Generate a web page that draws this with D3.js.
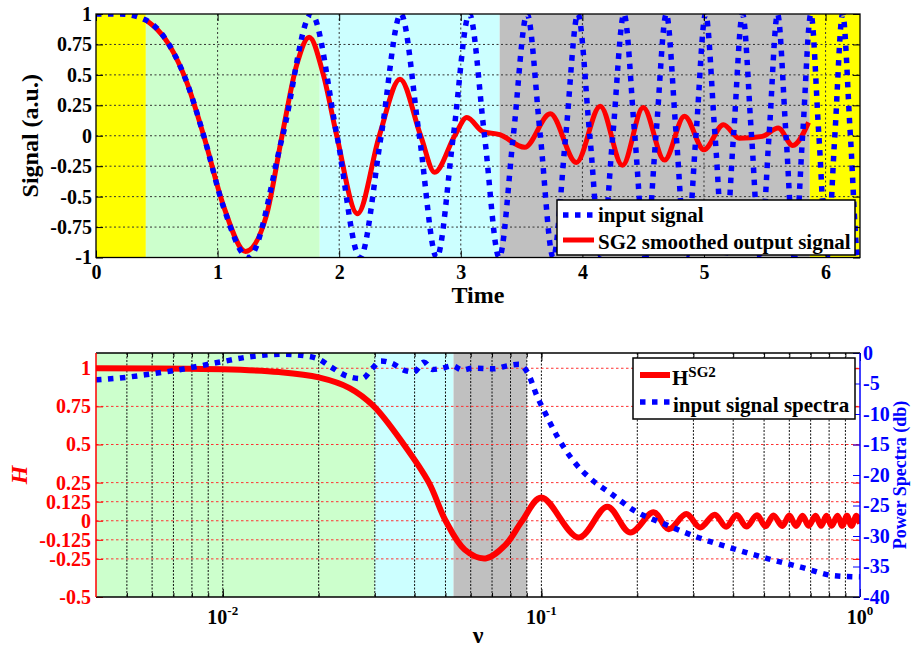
<!DOCTYPE html>
<html>
<head>
<meta charset="utf-8">
<script src="https://cdn.jsdelivr.net/npm/d3@7"></script>
<style>
  body { margin: 0; background: #fff; }
  svg { font-family: "Liberation Serif", "Times New Roman", serif; font-weight: bold; }
</style>
</head>
<body>
<svg id="chart" width="911" height="647"></svg>
<script>

	// ---- top panel data (time domain) ----
	var timeTicks = [0, 1, 2, 3, 4, 5, 6]
	var signalTicks = [-1, -0.75, -0.5, -0.25, 0, 0.25, 0.5, 0.75, 1]
	var timeBandEdges = [0, 0.41, 1.84, 3.32, 5.87, 6.283]

	// input signal, read at its peaks, troughs and zero crossings
	var inputT = [0, 0.2, 0.41, 0.6, 0.75, 0.886, 1.05, 1.253, 1.535, 1.772, 1.982, 2.171, 2.345, 2.507, 2.659,
		2.802, 2.939, 3.07, 3.195, 3.316, 3.432, 3.545, 3.654, 3.76, 3.863, 3.963, 4.061, 4.157, 4.25, 4.342,
		4.431, 4.519, 4.605, 4.69, 4.772, 4.854, 4.934, 5.013, 5.091, 5.168, 5.243, 5.317, 5.391, 5.463, 5.535,
		5.605, 5.675, 5.743, 5.811, 5.879, 5.945, 6.011, 6.076, 6.14, 6.204, 6.267, 6.283]
	var inputV = [1, 1, 0.95, 0.75, 0.43, 0, -0.59, -1, 0, 1, 0, -1, 0, 1, 0,
		-1, 0, 1, 0, -1, 0, 1, 0, -1, 0, 1, 0, -1, 0, 1,
		0, -1, 0, 1, 0, -1, 0, 1, 0, -1, 0, 1, 0, -1, 0,
		1, 0, -1, 0, 1, 0, -1, 0, 1, 0, -1, -0.99]

	// SG2 smoothed output
	var outputT = [0.41, 0.6, 0.75, 0.886, 1.05, 1.23, 1.4, 1.53, 1.65, 1.753, 1.87, 1.98, 2.15, 2.33, 2.5,
		2.67, 2.785, 2.95, 3.05, 3.18, 3.32, 3.525, 3.736, 3.95, 4.147, 4.33, 4.5, 4.675, 4.84, 5.0,
		5.16, 5.29, 5.48, 5.61, 5.73, 5.86]
	var outputV = [0.95, 0.75, 0.43, 0, -0.58, -0.95, -0.66, 0, 0.58, 0.81, 0.5, 0, -0.64, 0, 0.465,
		0, -0.3, 0, 0.15, 0.035, 0.01, -0.095, 0.18, -0.22, 0.243, -0.243, 0.232, -0.2, 0.16, -0.115,
		0.09, -0.02, -0.005, 0.063, -0.08, 0.11]

	// ---- bottom panel data (frequency domain) ----
	var nuBandEdges = [0.004, 0.03, 0.053, 0.09]
	var hTicks = [-0.5, -0.25, -0.125, 0, 0.125, 0.25, 0.5, 0.75, 1]
	var dbTicks = [0, -5, -10, -15, -20, -25, -30, -35, -40]
	var nuMajor = [0.01, 0.1, 1]
	var nuMajorExp = ["-2", "-1", "0"]

	var hNu = [0.004, 0.01, 0.015, 0.02, 0.025, 0.0298, 0.037, 0.04435, 0.05004, 0.0575, 0.0668,
		0.077, 0.0871, 0.1, 0.131, 0.161, 0.19, 0.225, 0.251, 0.285, 0.315, 0.35, 0.38, 0.41,
		0.44, 0.475, 0.505, 0.535, 0.57, 0.6, 0.63, 0.66, 0.69, 0.725, 0.755, 0.785, 0.815, 0.85,
		0.88, 0.91, 0.94, 0.975, 1.0]
	var hV = [1.0, 0.993, 0.975, 0.94, 0.87, 0.75, 0.5, 0.25, 0, -0.19, -0.247,
		-0.16, 0, 0.153, -0.11, 0.092, -0.077, 0.055, -0.055, 0.044, -0.044, 0.04, -0.04, 0.038,
		-0.038, 0.036, -0.036, 0.035, -0.035, 0.034, -0.034, 0.033, -0.033, 0.033, -0.033, 0.033, -0.033, 0.033,
		-0.033, 0.033, -0.033, 0.033, -0.02]

	var specNu = [0.004, 0.00495, 0.00593, 0.007, 0.00851, 0.01, 0.0122, 0.0155, 0.0184, 0.02, 0.0218, 0.0246,
		0.0274, 0.0295, 0.0313, 0.034, 0.037, 0.0398, 0.0428, 0.0455, 0.0488, 0.0525, 0.0565, 0.0607, 0.071,
		0.0782, 0.085, 0.0907, 0.0971, 0.1018, 0.1122, 0.1265, 0.1427, 0.1649, 0.1952, 0.2424, 0.3087,
		0.4021, 0.5119, 0.6514, 0.8289, 1.0]
	var specDb = [-4.4, -4.0, -3.45, -2.9, -2.1, -1.4, -0.6, -0.2, -0.5, -1.0, -2.25, -3.8,
		-4.2, -2.5, -1.3, -1.7, -2.8, -3.1, -1.5, -2.7, -2.5, -2.1, -2.8, -2.5, -2.6,
		-2.1, -1.85, -3.3, -7.2, -9.4, -13.7, -17.8, -20.6, -23.0, -25.8, -28.0, -30.2,
		-32.1, -33.7, -35.1, -36.5, -36.7]

	// colours
	var timeBandColors = ["#ffff00", "#ccffcc", "#ccffff", "#c0c0c0", "#ffff00"]
	var nuBandColors = ["#ccffcc", "#ccffff", "#c0c0c0"]
	var red = "#ff0000"
	var blue = "#0000ff"
	var font = "Liberation Serif, Times New Roman, serif"

	var svg = d3.select("#chart")

	// panel boxes
	var left = 96, right = 860
	var top1 = 14, bottom1 = 257.5
	var top2 = 353, bottom2 = 597

	var x1 = d3.scaleLinear().domain([0, 6.283]).range([left, right])
	var y1 = d3.scaleLinear().domain([-1, 1]).range([bottom1, top1])

	var x2 = d3.scaleLog().domain([0.004, 1]).range([left, right])
	var yH = d3.scaleLinear().domain([-0.5, 1.1]).range([bottom2, top2])
	var yDb = d3.scaleLinear().domain([-40, 0]).range([bottom2, top2])

	function styleAxis(g, size, color) {
		g.attr("font-family", font).attr("font-size", size).attr("font-weight", "bold")
		g.select(".domain").remove()
		g.selectAll("line").attr("stroke", color || "#000").attr("stroke-width", 1)
		g.selectAll("text").attr("fill", color || "#000")
	}

	var defs = svg.append("defs")
	defs.append("clipPath").attr("id", "clip1").append("rect")
		.attr("x", left).attr("y", top1).attr("width", right - left).attr("height", bottom1 - top1)
	defs.append("clipPath").attr("id", "clip2").append("rect")
		.attr("x", left).attr("y", top2).attr("width", right - left).attr("height", bottom2 - top2)

	// ================= TOP PANEL =================
	var p1 = svg.append("g")

	// coloured bands
	p1.selectAll("rect.band")
		.data(d3.range(timeBandEdges.length - 1))
		.enter()
		.append("rect")
		.attr("class", "band")
		.attr("x", function(i) { return x1(timeBandEdges[i]) })
		.attr("width", function(i) { return x1(timeBandEdges[i + 1]) - x1(timeBandEdges[i]) })
		.attr("y", top1)
		.attr("height", bottom1 - top1)
		.attr("fill", function(i) { return timeBandColors[i] })

	// dotted grid
	p1.selectAll("line.gx")
		.data(timeTicks.slice(1))
		.enter().append("line")
		.attr("x1", function(d) { return x1(d) }).attr("x2", function(d) { return x1(d) })
		.attr("y1", top1).attr("y2", bottom1)
		.attr("stroke", "#333").attr("stroke-width", 1).attr("stroke-dasharray", "2,2.5")
	p1.selectAll("line.gy")
		.data(signalTicks.slice(1, -1))
		.enter().append("line")
		.attr("x1", left).attr("x2", right)
		.attr("y1", function(d) { return y1(d) }).attr("y2", function(d) { return y1(d) })
		.attr("stroke", "#333").attr("stroke-width", 1).attr("stroke-dasharray", "2,2.5")

	var line1 = d3.line()
		.x(function(d) { return x1(d[0]) })
		.y(function(d) { return y1(d[1]) })
		.curve(d3.curveMonotoneX)

	var inputData = inputT.map(function(t, i) { return [t, inputV[i]] })
	var outputData = outputT.map(function(t, i) { return [t, outputV[i]] })

	var lines1 = p1.append("g").attr("clip-path", "url(#clip1)")
	lines1.append("path")
		.attr("d", line1(outputData))
		.attr("fill", "none").attr("stroke", red).attr("stroke-width", 5)
	lines1.append("path")
		.attr("d", line1(inputData))
		.attr("fill", "none").attr("stroke", blue).attr("stroke-width", 5.5)
		.attr("stroke-dasharray", "5.5,6.5")

	// axes with inward ticks
	p1.append("g").attr("transform", "translate(0," + bottom1 + ")")
		.call(d3.axisBottom(x1).tickValues(timeTicks).tickSize(-7).tickPadding(7).tickFormat(d3.format("d")))
		.call(styleAxis, 20)
	p1.append("g").attr("transform", "translate(0," + top1 + ")")
		.call(d3.axisTop(x1).tickValues(timeTicks).tickSize(-7).tickFormat(""))
		.call(styleAxis, 20)
	p1.append("g").attr("transform", "translate(" + left + ",0)")
		.call(d3.axisLeft(y1).tickValues(signalTicks).tickSize(-7).tickPadding(4).tickFormat(function(d) { return String(d) }))
		.call(styleAxis, 20)
	p1.append("g").attr("transform", "translate(" + right + ",0)")
		.call(d3.axisRight(y1).tickValues(signalTicks).tickSize(-7).tickFormat(""))
		.call(styleAxis, 20)

	p1.append("rect")
		.attr("x", left).attr("y", top1).attr("width", right - left).attr("height", bottom1 - top1)
		.attr("fill", "none").attr("stroke", "#000").attr("stroke-width", 1.3)

	p1.append("text")
		.attr("x", (left + right) / 2).attr("y", 303)
		.attr("text-anchor", "middle").attr("font-size", 24)
		.text("Time")
	p1.append("text")
		.attr("transform", "translate(38," + (top1 + bottom1) / 2 + ") rotate(-90)")
		.attr("text-anchor", "middle").attr("font-size", 24)
		.text("Signal (a.u.)")

	// legend
	var leg1 = p1.append("g")
	leg1.append("rect")
		.attr("x", 557).attr("y", 200).attr("width", 298).attr("height", 55)
		.attr("fill", "#fff").attr("stroke", "#000").attr("stroke-width", 1.5)
	leg1.append("line")
		.attr("x1", 563).attr("x2", 596).attr("y1", 215).attr("y2", 215)
		.attr("stroke", blue).attr("stroke-width", 5.5).attr("stroke-dasharray", "5.5,6.5")
	leg1.append("text").attr("x", 598).attr("y", 222).attr("font-size", 21).text("input signal")
	leg1.append("line")
		.attr("x1", 563).attr("x2", 594).attr("y1", 240).attr("y2", 240)
		.attr("stroke", red).attr("stroke-width", 5)
	leg1.append("text").attr("x", 598).attr("y", 249).attr("font-size", 21).text("SG2 smoothed output signal")

	// ================= BOTTOM PANEL =================
	var p2 = svg.append("g")

	p2.selectAll("rect.band")
		.data(d3.range(nuBandEdges.length - 1))
		.enter()
		.append("rect")
		.attr("class", "band")
		.attr("x", function(i) { return x2(nuBandEdges[i]) })
		.attr("width", function(i) { return x2(nuBandEdges[i + 1]) - x2(nuBandEdges[i]) })
		.attr("y", top2)
		.attr("height", bottom2 - top2)
		.attr("fill", function(i) { return nuBandColors[i] })

	var logTicks = x2.ticks().filter(function(d) { return d > 0.0041 && d < 0.999 })

	p2.selectAll("line.gx")
		.data(logTicks)
		.enter().append("line")
		.attr("x1", function(d) { return x2(d) }).attr("x2", function(d) { return x2(d) })
		.attr("y1", top2).attr("y2", bottom2)
		.attr("stroke", "#111").attr("stroke-width", 1).attr("stroke-dasharray", "2,1.5")
	p2.selectAll("line.gy")
		.data(hTicks.slice(1))
		.enter().append("line")
		.attr("x1", left).attr("x2", right)
		.attr("y1", function(d) { return yH(d) }).attr("y2", function(d) { return yH(d) })
		.attr("stroke", "#ff3030").attr("stroke-width", 1).attr("stroke-dasharray", "2.5,2.5")

	var lineH = d3.line()
		.x(function(d) { return x2(d[0]) })
		.y(function(d) { return yH(d[1]) })
		.curve(d3.curveCatmullRom.alpha(0.5))
	var lineSpec = d3.line()
		.x(function(d) { return x2(d[0]) })
		.y(function(d) { return yDb(d[1]) })
		.curve(d3.curveMonotoneX)

	var hData = hNu.map(function(n, i) { return [n, hV[i]] })
	var specData = specNu.map(function(n, i) { return [n, specDb[i]] })

	var lines2 = p2.append("g").attr("clip-path", "url(#clip2)")
	lines2.append("path")
		.attr("d", lineH(hData))
		.attr("fill", "none").attr("stroke", red).attr("stroke-width", 6)
	lines2.append("path")
		.attr("d", lineSpec(specData))
		.attr("fill", "none").attr("stroke", blue).attr("stroke-width", 5.5)
		.attr("stroke-dasharray", "5.5,6.5")

	// log x axis: minor and major ticks, bottom and top
	p2.append("g").attr("transform", "translate(0," + bottom2 + ")")
		.call(d3.axisBottom(x2).tickValues(logTicks).tickSize(-4).tickFormat(""))
		.call(styleAxis, 20)
	p2.append("g").attr("transform", "translate(0," + bottom2 + ")")
		.call(d3.axisBottom(x2).tickValues(nuMajor).tickSize(-8).tickFormat(""))
		.call(styleAxis, 20)
	p2.append("g").attr("transform", "translate(0," + top2 + ")")
		.call(d3.axisTop(x2).tickValues(logTicks).tickSize(-4).tickFormat(""))
		.call(styleAxis, 20)
	p2.append("g").attr("transform", "translate(0," + top2 + ")")
		.call(d3.axisTop(x2).tickValues(nuMajor).tickSize(-8).tickFormat(""))
		.call(styleAxis, 20)

	// 10^n labels
	nuMajor.forEach(function(v, i) {
		var t = p2.append("text")
			.attr("x", x2(v)).attr("y", 624)
			.attr("text-anchor", "middle").attr("font-size", 20)
		t.append("tspan").text("10")
		t.append("tspan").attr("dy", -9).attr("font-size", 13).text(nuMajorExp[i])
	})

	// left H axis (red), mirrored on the right
	p2.append("g").attr("transform", "translate(" + left + ",0)")
		.call(d3.axisLeft(yH).tickValues(hTicks).tickSize(-7).tickPadding(5).tickFormat(function(d) { return String(d) }))
		.call(styleAxis, 20, red)
	p2.append("g").attr("transform", "translate(" + right + ",0)")
		.call(d3.axisRight(yH).tickValues(hTicks).tickSize(-7).tickFormat(""))
		.call(styleAxis, 20, red)
	// right dB axis (blue)
	p2.append("g").attr("transform", "translate(" + right + ",0)")
		.call(d3.axisRight(yDb).tickValues(dbTicks).tickSize(-7).tickPadding(3).tickFormat(function(d) { return String(d) }))
		.call(styleAxis, 20, blue)

	// frame
	p2.append("line").attr("x1", left).attr("x2", right).attr("y1", top2).attr("y2", top2)
		.attr("stroke", "#000").attr("stroke-width", 1.3)
	p2.append("line").attr("x1", left).attr("x2", right).attr("y1", bottom2).attr("y2", bottom2)
		.attr("stroke", "#000").attr("stroke-width", 1.3)
	p2.append("line").attr("x1", left).attr("x2", left).attr("y1", top2).attr("y2", bottom2)
		.attr("stroke", red).attr("stroke-width", 1.5)
	p2.append("line").attr("x1", right).attr("x2", right).attr("y1", top2).attr("y2", bottom2)
		.attr("stroke", blue).attr("stroke-width", 1.5)

	p2.append("text")
		.attr("x", (left + right) / 2).attr("y", 643)
		.attr("text-anchor", "middle").attr("font-size", 24)
		.text("ν")
	p2.append("text")
		.attr("transform", "translate(27," + (top2 + bottom2) / 2 + ") rotate(-90)")
		.attr("text-anchor", "middle").attr("font-size", 24).attr("font-style", "italic")
		.attr("fill", red)
		.text("H")
	p2.append("text")
		.attr("transform", "translate(906," + (top2 + bottom2) / 2 + ") rotate(-90)")
		.attr("text-anchor", "middle").attr("font-size", 18)
		.attr("fill", blue)
		.text("Power Spectra (db)")

	// legend
	var leg2 = p2.append("g")
	leg2.append("rect")
		.attr("x", 633).attr("y", 358).attr("width", 222).attr("height", 61)
		.attr("fill", "#fff").attr("stroke", "#000").attr("stroke-width", 1.5)
	leg2.append("line")
		.attr("x1", 640).attr("x2", 670).attr("y1", 375).attr("y2", 375)
		.attr("stroke", red).attr("stroke-width", 6)
	var hl = leg2.append("text").attr("x", 672).attr("y", 385).attr("font-size", 21)
	hl.append("tspan").text("H")
	hl.append("tspan").attr("dy", -8).attr("font-size", 15).text("SG2")
	leg2.append("line")
		.attr("x1", 640).attr("x2", 672).attr("y1", 402).attr("y2", 402)
		.attr("stroke", blue).attr("stroke-width", 5.5).attr("stroke-dasharray", "5.5,6.5")
	leg2.append("text").attr("x", 673).attr("y", 412).attr("font-size", 21).text("input signal spectra")

</script>
</body>
</html>
